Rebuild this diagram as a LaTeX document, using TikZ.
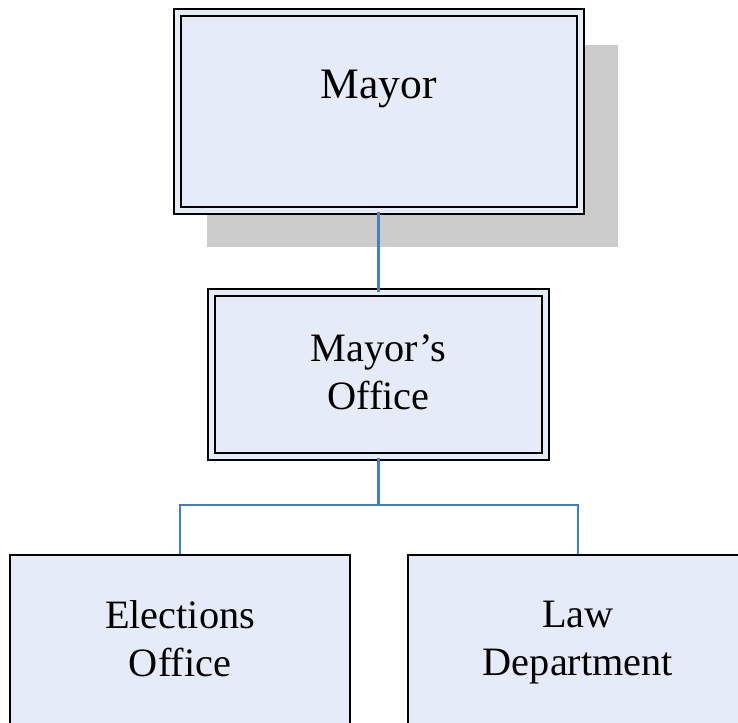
\documentclass[tikz,border=0pt]{standalone}
\usepackage{fontspec}
\setmainfont{Liberation Serif}
\usetikzlibrary{positioning,shadows}
\definecolor{boxfill}{RGB}{230,236,247}
\definecolor{linkblue}{RGB}{74,126,187}
\definecolor{shadowgray}{RGB}{204,204,204}

\begin{document}
\begin{tikzpicture}[x=1pt,y=-1pt]
  \tikzset{
  headbox/.style={
    rectangle,
    draw=black,
    line width=2pt,
    double=boxfill,
    double distance=5pt,
    fill=boxfill
  },
  unitbox/.style={
    rectangle,
    draw=black,
    line width=2pt,
    fill=boxfill,
    minimum width=340pt,
    minimum height=220pt
  },
  boxtext/.style={
    font=\fontsize{40.3}{48}\selectfont,
    align=center
  },
  link/.style={
    draw=linkblue,
    line width=2.2pt
  }
}
\useasboundingbox (0,0) rectangle (738,722);

\node[headbox, minimum width=403pt, minimum height=198pt,
  drop shadow={shadow xshift=33pt, shadow yshift=-34pt, shadow scale=1.02,
    fill=shadowgray, opacity=1}] at (378.5,111.5)
  (mayor) {};
\node[headbox, minimum width=334pt, minimum height=164pt] at (378.5,374.5)
  (office) {};
\node[unitbox] at (180,665)
  (elections) {};
\node[unitbox] at (578,665)
  (law) {};

\node[boxtext, font=\fontsize{43.5}{48}\selectfont, anchor=base] at (378.5,99)
  (mayortext) {Mayor};
\node[boxtext] at (378.5,372.5) (officetext) {Mayor's\\Office};
\node[boxtext] at (180,638.4) (electionstext) {Elections\\Office};
\node[boxtext] at (578,642.7) (lawtext) {Law\\Department};

  \coordinate (fork) at (378.5,505);

  \draw[link] (mayor.south) -- (office.north);
  \draw[link] (office.south) -- (fork);
  \draw[link] (elections.north) |- (fork);
  \draw[link] (law.north) |- (fork);

\end{tikzpicture}
\end{document}
